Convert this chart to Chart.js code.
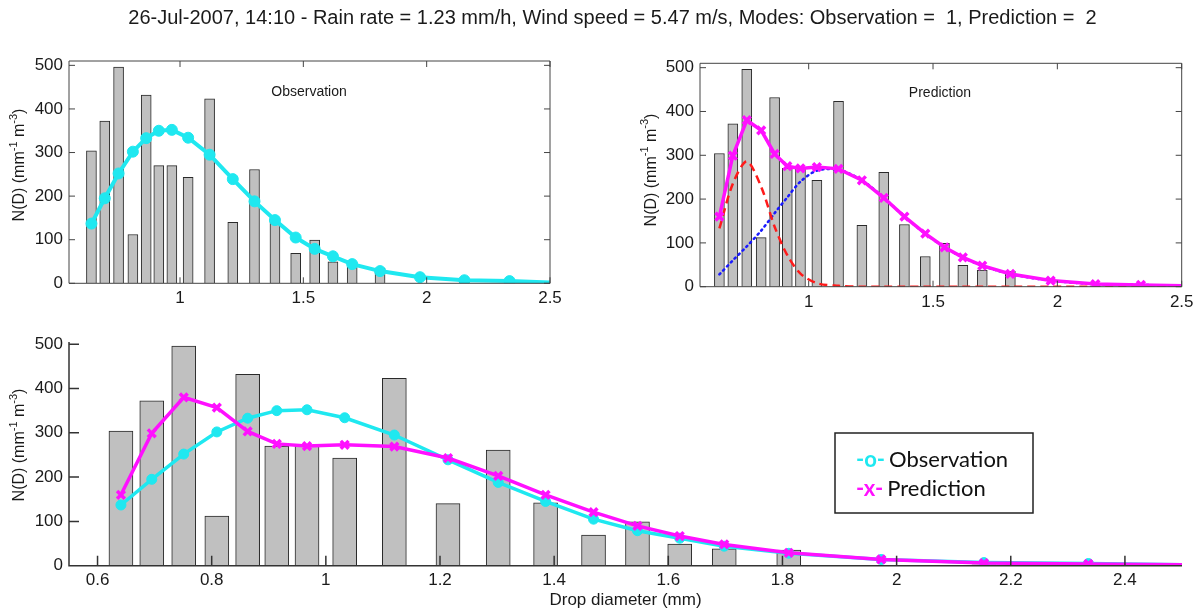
<!DOCTYPE html>
<html><head><meta charset="utf-8">
<script src="https://cdn.jsdelivr.net/npm/chart.js@4.4.1/dist/chart.umd.min.js"></script>
<style>
html,body{margin:0;padding:0;background:#fff;width:1199px;height:612px;overflow:hidden;font-family:"Liberation Sans",Arial,sans-serif;}
#title{position:absolute;left:0;top:6px;width:1199px;text-align:center;font-size:20px;white-space:pre;color:#1a1a1a;padding-left:26px;box-sizing:border-box;z-index:5}
.box{position:absolute}
canvas{display:block}
</style></head><body>
<div id="title">26-Jul-2007, 14:10 - Rain rate = 1.23 mm/h, Wind speed = 5.47 m/s, Modes: Observation =  1, Prediction =  2</div>
<div class="box" style="left:0;top:0"><canvas id="c1" width="600" height="320"></canvas></div>
<div class="box" style="left:600px;top:0"><canvas id="c2" width="599" height="320"></canvas></div>
<div class="box" style="left:0;top:320px"><canvas id="c3" width="1199" height="292"></canvas></div>
<script>
// ---- data ----
const diam   = [0.641,0.695,0.751,0.809,0.863,0.914,0.967,1.033,1.120,1.214,1.302,1.385,1.469,1.546,1.620,1.698,1.811,1.973,2.153,2.336,2.5];
const counts = [304,372,496,112,432,270,270,243,423,140,261,142,69,99,49,38,35,null,2,null,null];
const obs    = [137,195,252,302,333,350,352,334,295,239,188,145,105,79,62,44,28,14,7,5,2];
const pred   = [160,299,380,357,303,275,270,273,269,243,203,160,121,90,67,48,29,14,6,4,2];
const mode1  = [133,235,286,228,137,72,30,8,2,0,0,0,0,0,0,0,0,0,0,0,0];
const mode2  = [28,60,92,128,168,204,240,265,267,243,203,160,121,90,67,48,29,14,6,4,2];
const xTicksTop = [1,1.5,2,2.5];
const xTicksBottom = [0.6,0.8,1,1.2,1.4,1.6,1.8,2,2.2,2.4];
const yTicks = [0,100,200,300,400,500];

const CYAN = '#1fe8f0', MAG = '#ff10ff', RED = '#ff1a1a', BLUE = '#1a1aff';
const FONT = '"Liberation Sans", Arial, sans-serif';
const pts = arr => diam.map((d,i) => ({x:d, y:arr[i]})).filter(p => p.y !== null);
const lastIdx = diam.length - 1;

const framePlugin = {
  id: 'frame',
  afterDatasetsDraw(chart, args, o) {
    const {ctx, chartArea: a, scales: {x, y}} = chart;
    ctx.save();
    ctx.strokeStyle = o.color; ctx.lineWidth = o.width;
    ctx.beginPath();
    if (o.box) ctx.rect(a.left, a.top, a.right - a.left, a.bottom - a.top);
    else { ctx.moveTo(a.left, a.top); ctx.lineTo(a.left, a.bottom); ctx.lineTo(a.right, a.bottom); }
    x.ticks.forEach(t => {
      const p = x.getPixelForValue(t.value);
      ctx.moveTo(p, a.bottom); ctx.lineTo(p, a.bottom - o.tick);
      if (o.box) { ctx.moveTo(p, a.top); ctx.lineTo(p, a.top + o.tick); }
    });
    y.ticks.forEach(t => {
      const p = y.getPixelForValue(t.value);
      ctx.moveTo(a.left, p); ctx.lineTo(a.left + o.tick, p);
      if (o.box) { ctx.moveTo(a.right, p); ctx.lineTo(a.right - o.tick, p); }
    });
    ctx.stroke();
    // y axis title with superscripts
    const fs = o.yFont, ss = Math.round(fs * 0.7);
    const parts = [['N(D) (mm', fs, 0], ['-1', ss, -fs * 0.4], [' m', fs, 0], ['-3', ss, -fs * 0.4], [')', fs, 0]];
    let tot = 0;
    parts.forEach(p => { ctx.font = p[1] + 'px ' + FONT; p.push(ctx.measureText(p[0]).width); tot += p[3]; });
    ctx.translate(o.yTitleX, o.yTitleY); ctx.rotate(-Math.PI / 2);
    ctx.fillStyle = '#1a1a1a'; ctx.textBaseline = 'middle'; ctx.textAlign = 'left';
    let cx = -tot / 2;
    parts.forEach(p => { ctx.font = p[1] + 'px ' + FONT; ctx.fillText(p[0], cx, p[2]); cx += p[3]; });
    ctx.setTransform(1, 0, 0, 1, 0, 0);
    if (o.inner) {
      ctx.font = '14px ' + FONT;
      ctx.textAlign = 'center'; ctx.textBaseline = 'middle'; ctx.fillStyle = '#1a1a1a';
      ctx.fillText(o.inner[0], o.inner[1], o.inner[2]);
    }
    if (o.legend) {
      const L = o.legend;
      ctx.lineWidth = 1.5; ctx.strokeStyle = '#222';
      ctx.strokeRect(L.x, L.y, L.w, L.h);
      ctx.textAlign = 'left'; ctx.textBaseline = 'middle';
      L.items.forEach((it, i) => {
        const yy = L.y + L.first + i * L.gap;
        ctx.font = 'bold 22px Lato, "Open Sans", sans-serif';
        ctx.fillStyle = it[1]; ctx.fillText(it[0], L.x + 21, yy);
        const w = ctx.measureText(it[0]).width;
        ctx.font = '22px Lato, "Open Sans", sans-serif';
        ctx.fillStyle = '#111'; ctx.fillText(it[2], L.x + 21 + w + 4, yy);
      });
    }
    ctx.restore();
  }
};

function axisCfg(min, max, ticks, fit, isX, pad, extra) {
  return Object.assign({
    type: 'linear', min, max, offset: false,
    grid: {display: false, drawTicks: false}, border: {display: false},
    afterBuildTicks: s => { s.ticks = ticks.map(v => ({value: v})); },
    afterFit: s => { if (isX) s.height = fit; else s.width = fit; },
    ticks: {font: {size: 17, family: FONT}, color: '#1a1a1a', padding: pad,
            maxRotation: 0, autoSkip: false, callback: v => String(v)}
  }, extra || {});
}

function barSet(th) {
  return {type: 'bar', data: pts(counts), backgroundColor: '#c0c0c0', borderColor: '#2a2a2a',
          borderWidth: 1, barThickness: th, order: 10};
}
function obsSet(lw, r) {
  return {type: 'line', data: pts(obs), borderColor: CYAN, backgroundColor: CYAN, borderWidth: lw,
          pointStyle: 'circle', pointRadius: c => c.dataIndex === lastIdx ? 0 : r, pointBorderWidth: 1,
          pointBorderColor: CYAN, tension: 0, order: 3};
}
function predSet(lw, r) {
  return {type: 'line', data: pts(pred), borderColor: MAG, backgroundColor: MAG, borderWidth: lw,
          pointStyle: 'crossRot', pointRadius: c => c.dataIndex === lastIdx ? 0 : r, pointBorderWidth: 3.5,
          tension: 0, order: 1};
}
const base = (pad, extra) => ({
  responsive: false, animation: false, devicePixelRatio: 1,
  layout: {padding: pad},
  plugins: {legend: {display: false}, tooltip: {enabled: false}, frame: extra}
});

// top-left: observation
new Chart(document.getElementById('c1'), {
  type: 'bar',
  data: {datasets: [barSet(10), obsSet(4, 5.5)]},
  options: Object.assign(base({left: 0, right: 50, top: 61, bottom: 0},
    {box: true, tick: 6, color: '#444', width: 1, yFont: 16, yTitleX: 20, yTitleY: 165, inner: ['Observation', 309, 92]}), {
    scales: {x: axisCfg(0.55, 2.5, xTicksTop, 36.7, true, 5), y: axisCfg(0, 510, yTicks, 69, false, 6)}
  }),
  plugins: [framePlugin]
});

// top-right: prediction with modes
new Chart(document.getElementById('c2'), {
  type: 'bar',
  data: {datasets: [
    barSet(10),
    {type: 'line', data: pts(mode1), borderColor: RED, borderWidth: 2.5, borderDash: [8, 5], pointRadius: 0, tension: 0.3, order: 4},
    {type: 'line', data: pts(mode2), borderColor: BLUE, borderWidth: 2.5, borderDash: [1.5, 4], borderCapStyle: 'round', pointRadius: 0, tension: 0.3, order: 5},
    predSet(3.5, 5.5)
  ]},
  options: Object.assign(base({left: 0, right: 17.3, top: 63.3, bottom: 0},
    {box: true, tick: 6, color: '#444', width: 1, yFont: 16, yTitleX: 51.5, yTitleY: 170, inner: ['Prediction', 340, 93]}), {
    scales: {x: axisCfg(0.563, 2.5, xTicksTop, 33.3, true, 5), y: axisCfg(0, 510, yTicks, 100, false, 6)}
  }),
  plugins: [framePlugin]
});

// bottom: comparison
new Chart(document.getElementById('c3'), {
  type: 'bar',
  data: {datasets: [barSet(24), obsSet(3.5, 5), predSet(3.5, 5.5)]},
  options: Object.assign(base({left: 0, right: 17, top: 22, bottom: 0},
    {box: false, tick: 10, color: '#333', width: 1.5, yFont: 16, yTitleX: 20, yTitleY: 125,
     legend: {x: 835, y: 113, w: 198, h: 80, first: 27, gap: 29,
              items: [['-o-', CYAN, 'Observation'], ['-x-', MAG, 'Prediction']]}}), {
    scales: {
      x: axisCfg(0.55, 2.5, xTicksBottom, 46.3, true, 4, {title: {display: true, text: 'Drop diameter (mm)', color: '#1a1a1a',
          font: {size: 17, family: FONT}, padding: {top: 0, bottom: 1}}}),
      y: axisCfg(0, 505, yTicks, 69, false, 6)
    }
  }),
  plugins: [framePlugin]
});
</script>
</body></html>
